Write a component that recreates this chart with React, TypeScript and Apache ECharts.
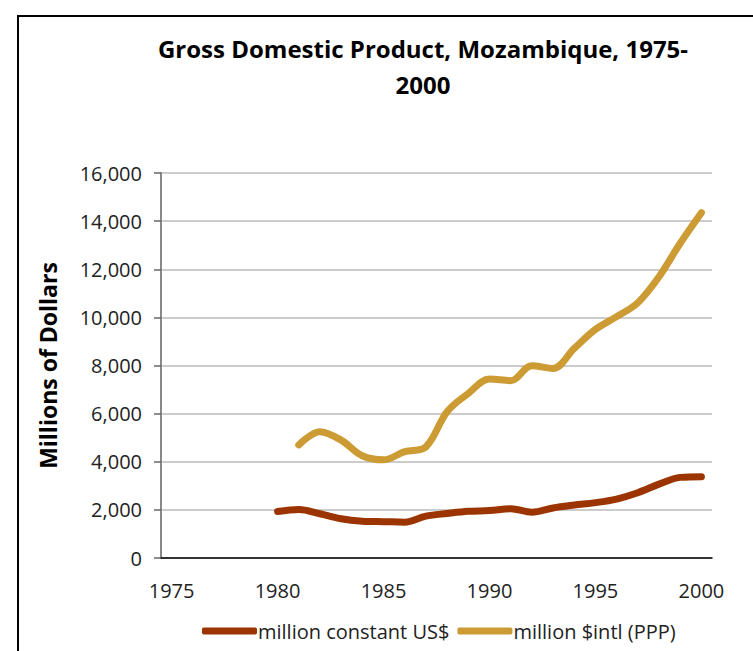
import React, { useEffect, useRef } from "react";
import * as echarts from "echarts";

const years: string[] = [];
for (let y = 1975; y <= 2000; y++) years.push(String(y));

// 1975..2000
const constantUS: (number | null)[] = [
  null, null, null, null, null,
  1930, 2020, 1840, 1630, 1530, 1510, 1490, 1740, 1850, 1940,
  1970, 2050, 1900, 2080, 2200, 2300, 2450, 2710, 3070, 3350, 3380,
];
const intlPPP: (number | null)[] = [
  null, null, null, null, null, null,
  4700, 5250, 4900, 4250, 4080, 4420, 4620, 6080, 6840,
  7440, 7370, 7990, 7880, 8710, 9500, 10030, 10610, 11690, 13080, 14350,
];

const FONT = "'Open Sans', 'Noto Sans', sans-serif";

export default function App() {
  const ref = useRef<HTMLDivElement>(null);
  useEffect(() => {
    if (!ref.current) return;
    const chart = echarts.init(ref.current, undefined, { renderer: "svg" });
    chart.setOption({
      animation: false,
      backgroundColor: "#ffffff",
      title: {
        text: "Gross Domestic Product, Mozambique, 1975-\n2000",
        left: 418,
        top: 25,
        textAlign: "center",
        textStyle: {
          fontFamily: FONT,
          fontWeight: "bold",
          fontSize: 24,
          lineHeight: 36,
          color: "#000",
        },
      },
      graphic: [
        {
          type: "rect",
          shape: { x: 18, y: 16, width: 900, height: 900 },
          style: { fill: "none", stroke: "#000", lineWidth: 2 },
          silent: true,
        },
      ],
      grid: { left: 161, right: 41, top: 173, bottom: 93, containLabel: false },
      legend: {
        left: 197,
        top: 616,
        itemWidth: 55,
        itemHeight: 7,
        itemGap: 8,
        icon: "roundRect",
        textStyle: { fontFamily: FONT, fontSize: 20, color: "#222", padding: [0, 0, 0, -4] },
        data: ["million constant US$", "million $intl (PPP)"],
      },
      xAxis: {
        type: "category",
        data: years,
        boundaryGap: true,
        axisLine: { show: true, lineStyle: { color: "#000", width: 1.5 } },
        axisTick: { show: false },
        axisLabel: {
          interval: 4,
          margin: 22,
          fontFamily: FONT,
          fontSize: 20,
          color: "#222",
        },
        splitLine: { show: false },
      },
      yAxis: {
        type: "value",
        min: 0,
        max: 16000,
        interval: 2000,
        name: "Millions of Dollars",
        nameLocation: "middle",
        nameGap: 102,
        nameRotate: 90,
        nameTextStyle: {
          fontFamily: FONT,
          fontWeight: "bold",
          fontSize: 23,
          color: "#000",
        },
        axisLine: { show: true, lineStyle: { color: "#888", width: 2 } },
        axisTick: { show: true, length: 7, lineStyle: { color: "#666", width: 1.5 } },
        axisLabel: {
          margin: 19,
          fontFamily: FONT,
          fontSize: 20,
          color: "#222",
          formatter: (v: number) => v.toLocaleString("en-US"),
        },
        splitLine: { show: true, lineStyle: { color: "#bbbbbb", width: 1.5 } },
      },
      series: [
        {
          name: "million constant US$",
          type: "line",
          data: constantUS,
          smooth: 0.35,
          symbol: "none",
          color: "#9c3400",
          lineStyle: { width: 7, color: "#9c3400", cap: "round", join: "round" },
        },
        {
          name: "million $intl (PPP)",
          type: "line",
          data: intlPPP,
          smooth: 0.35,
          symbol: "none",
          color: "#cd9b34",
          lineStyle: { width: 7, color: "#cd9b34", cap: "round", join: "round" },
        },
      ],
    });
    return () => chart.dispose();
  }, []);
  return (
    <div
      ref={ref}
      style={{ position: "fixed", left: 0, top: 0, width: 753, height: 651 }}
    />
  );
}
